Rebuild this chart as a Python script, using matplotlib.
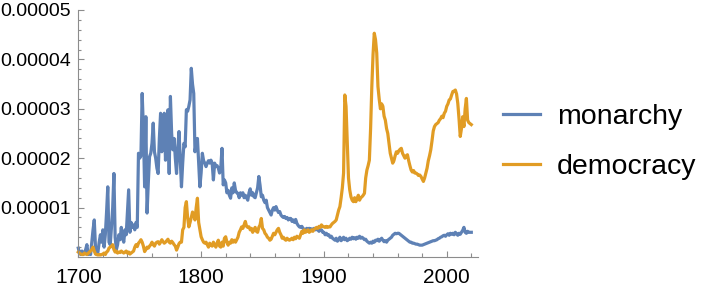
import numpy as np
import matplotlib
matplotlib.use("Agg")
import matplotlib.pyplot as plt
from matplotlib.ticker import FixedLocator, MultipleLocator, FixedFormatter

plt.rcParams['font.family'] = ['Liberation Sans', 'DejaVu Sans']

years = np.arange(1700, 2021)

# monarchy (units of 1e-5), one value per year, decade by decade
monarchy = [
    0.18, 0.08, 0.05, 0.12, 0.05, 0.08, 0.15, 0.25, 0.05, 0.10,
    0.05, 0.30, 0.55, 0.75, 0.20, 0.05, 0.10, 0.30, 0.45, 0.30,
    0.55, 0.20, 0.45, 0.90, 1.42, 0.30, 0.25, 0.60, 1.00, 1.69,
    0.40, 0.15, 0.25, 0.45, 0.35, 0.60, 0.40, 0.30, 0.55, 0.45,
    0.90, 1.36, 0.50, 0.70, 0.60, 0.65, 0.55, 0.70, 0.60, 2.10,
    2.00, 2.05, 3.31, 2.60, 1.42, 2.84, 0.89, 1.50, 2.03, 2.10,
    2.30, 2.71, 2.13, 2.00, 1.80, 1.69, 2.40, 2.91, 2.13, 2.50,
    2.91, 1.96, 2.60, 2.98, 1.69, 3.25, 2.50, 2.17, 2.40, 2.00,
    1.69, 2.20, 2.54, 2.00, 1.42, 1.90, 2.30, 2.23, 2.98, 2.95,
    3.05, 3.18, 3.82, 3.50, 3.31, 2.13, 2.30, 2.40, 1.90, 1.42,
    1.70, 2.10, 1.95, 1.90, 1.83, 1.90, 1.95, 1.90, 1.96, 1.90,
    1.56, 1.90, 1.83, 1.85, 1.80, 1.70, 1.80, 2.20, 1.46, 1.56,
    1.50, 1.30, 1.35, 1.25, 1.19, 1.40, 1.30, 1.50, 1.35, 1.30,
    1.29, 1.20, 1.30, 1.25, 1.30, 1.20, 1.25, 1.20, 1.15, 1.30,
    1.38, 1.25, 1.30, 1.22, 1.20, 1.30, 1.40, 1.63, 1.45, 1.22,
    1.25, 1.15, 1.10, 1.15, 1.00, 0.95, 0.90, 0.85, 0.95, 1.00,
    0.95, 1.02, 0.95, 0.90, 0.92, 0.85, 0.82, 0.80, 0.82, 0.78,
    0.80, 0.75, 0.78, 0.78, 0.72, 0.75, 0.70, 0.76, 0.68, 0.64,
    0.61, 0.60, 0.62, 0.58, 0.56, 0.55, 0.58, 0.55, 0.58, 0.56,
    0.57, 0.54, 0.58, 0.55, 0.56, 0.55, 0.52, 0.55, 0.55, 0.50,
    0.50, 0.45, 0.48, 0.44, 0.45, 0.40, 0.42, 0.38, 0.36, 0.34,
    0.38, 0.32, 0.35, 0.40, 0.33, 0.36, 0.40, 0.35, 0.38, 0.33,
    0.35, 0.38, 0.36, 0.40, 0.37, 0.39, 0.36, 0.40, 0.38, 0.42,
    0.38, 0.40, 0.38, 0.35, 0.36, 0.32, 0.30, 0.28, 0.30, 0.28,
    0.32, 0.30, 0.34, 0.33, 0.36, 0.32, 0.35, 0.38, 0.34, 0.31,
    0.33, 0.30, 0.34, 0.36, 0.38, 0.40, 0.44, 0.46, 0.48, 0.47,
    0.48, 0.48, 0.46, 0.44, 0.42, 0.40, 0.38, 0.36, 0.34, 0.32,
    0.30, 0.30, 0.28, 0.28, 0.27, 0.26, 0.26, 0.25, 0.24, 0.24,
    0.24, 0.25, 0.26, 0.27, 0.28, 0.29, 0.30, 0.31, 0.32, 0.33,
    0.33, 0.34, 0.35, 0.37, 0.38, 0.40, 0.41, 0.43, 0.44, 0.42,
    0.45, 0.47, 0.44, 0.48, 0.46, 0.48, 0.45, 0.50, 0.47, 0.44,
    0.48, 0.46, 0.50, 0.54, 0.60, 0.50, 0.48, 0.52, 0.50, 0.50,
    0.50,
]

# democracy (units of 1e-5)
democracy = [
    0.10, 0.08, 0.06, 0.05, 0.05, 0.08, 0.06, 0.05, 0.07, 0.10,
    0.12, 0.15, 0.20, 0.12, 0.06, 0.05, 0.04, 0.05, 0.04, 0.05,
    0.06, 0.08, 0.05, 0.10, 0.12, 0.18, 0.20, 0.22, 0.25, 0.15,
    0.10, 0.12, 0.08, 0.10, 0.09, 0.12, 0.10, 0.08, 0.10, 0.12,
    0.08, 0.10, 0.06, 0.08, 0.10, 0.12, 0.20, 0.25, 0.21, 0.28,
    0.31, 0.35, 0.30, 0.22, 0.11, 0.15, 0.20, 0.18, 0.22, 0.25,
    0.30, 0.25, 0.22, 0.28, 0.30, 0.31, 0.26, 0.30, 0.35, 0.31,
    0.28, 0.30, 0.33, 0.36, 0.30, 0.28, 0.32, 0.29, 0.25, 0.22,
    0.14, 0.20, 0.27, 0.30, 0.30, 0.55, 0.60, 1.00, 1.12, 0.80,
    0.61, 0.70, 0.80, 0.91, 0.85, 0.75, 1.00, 1.19, 0.70, 0.55,
    0.41, 0.35, 0.30, 0.28, 0.30, 0.25, 0.20, 0.28, 0.24, 0.22,
    0.30, 0.25, 0.20, 0.28, 0.34, 0.22, 0.20, 0.30, 0.22, 0.38,
    0.41, 0.30, 0.24, 0.30, 0.28, 0.35, 0.30, 0.34, 0.30, 0.35,
    0.40, 0.50, 0.55, 0.61, 0.58, 0.65, 0.72, 0.62, 0.60, 0.61,
    0.55, 0.58, 0.50, 0.55, 0.60, 0.52, 0.50, 0.60, 0.65, 0.78,
    0.58, 0.55, 0.48, 0.45, 0.40, 0.38, 0.34, 0.36, 0.42, 0.48,
    0.45, 0.50, 0.55, 0.58, 0.50, 0.45, 0.38, 0.40, 0.36, 0.34,
    0.38, 0.35, 0.34, 0.36, 0.38, 0.35, 0.40, 0.37, 0.42, 0.40,
    0.38, 0.45, 0.52, 0.48, 0.55, 0.50, 0.52, 0.55, 0.50, 0.52,
    0.55, 0.52, 0.56, 0.58, 0.60, 0.58, 0.62, 0.60, 0.65, 0.62,
    0.61, 0.60, 0.62, 0.60, 0.61, 0.61, 0.65, 0.68, 0.70, 0.72,
    0.75, 0.85, 0.95, 1.02, 1.20, 1.40, 1.70, 3.28, 3.05, 2.30,
    1.60, 1.36, 1.22, 1.15, 1.12, 1.20, 1.12, 1.18, 1.25, 1.15,
    1.20, 1.22, 1.25, 1.29, 1.60, 1.76, 1.85, 1.96, 2.60, 3.45,
    4.10, 4.53, 4.40, 4.13, 3.45, 3.20, 3.00, 3.10, 3.05, 2.85,
    2.77, 2.60, 2.50, 2.30, 2.10, 2.00, 1.90, 1.95, 2.05, 2.13,
    2.10, 2.15, 2.18, 2.20, 2.10, 2.05, 2.00, 2.05, 2.07, 1.95,
    1.85, 1.76, 1.72, 1.75, 1.70, 1.70, 1.68, 1.65, 1.66, 1.63,
    1.58, 1.53, 1.60, 1.70, 1.80, 1.95, 2.05, 2.17, 2.35, 2.55,
    2.64, 2.68, 2.70, 2.72, 2.77, 2.80, 2.85, 2.82, 2.91, 2.95,
    3.05, 3.10, 3.18, 3.20, 3.28, 3.35, 3.36, 3.38, 3.30, 3.11,
    2.80, 2.44, 2.60, 2.84, 2.64, 3.00, 3.21, 2.77, 2.72, 2.70,
    2.68,
]

series_names = ["monarchy", "democracy"]
series_colors = ["#5E81B5", "#E19C24"]
x_tick_values = [1700, 1800, 1900, 2000]
x_tick_labels = ["1700", "1800", "1900", "2000"]
y_tick_values = [1e-5, 2e-5, 3e-5, 4e-5, 5e-5]
y_tick_labels = ["0.00001", "0.00002", "0.00003", "0.00004", "0.00005"]

scale = 1e-5
fig = plt.figure(figsize=(7.14, 2.88), dpi=100)
ax = fig.add_axes([78.3 / 714, 31 / 288, 400 / 714, 247 / 288])

for name, vals, col in zip(series_names, [monarchy, democracy], series_colors):
    ax.plot(years, np.array(vals) * scale, color=col, lw=2.3, label=name,
            clip_on=False, solid_joinstyle='round')

ax.set_xlim(1700, 2025.7)
ax.set_ylim(0, 5e-5)

for s in ["top", "right"]:
    ax.spines[s].set_visible(False)
for s in ["left", "bottom"]:
    ax.spines[s].set_color("#8c8c8c")
    ax.spines[s].set_linewidth(0.8)

ax.xaxis.set_major_locator(FixedLocator(x_tick_values))
ax.xaxis.set_major_formatter(FixedFormatter(x_tick_labels))
ax.xaxis.set_minor_locator(MultipleLocator(20))
ax.yaxis.set_major_locator(FixedLocator(y_tick_values))
ax.yaxis.set_major_formatter(FixedFormatter(y_tick_labels))
ax.yaxis.set_minor_locator(MultipleLocator(2e-6))

ax.tick_params(which="both", direction="in", color="#8c8c8c", width=0.8,
               labelcolor="black")
ax.tick_params(axis="x", which="major", length=4, pad=8, labelsize=15)
ax.tick_params(axis="x", which="minor", length=3)
ax.tick_params(axis="y", which="major", length=4, pad=5, labelsize=14)
ax.tick_params(axis="y", which="minor", length=2.2)

fig.legend(loc="center left", bbox_to_anchor=(503 / 714, 146 / 288),
           frameon=False, fontsize=20.5, handlelength=1.3, handletextpad=0.6,
           labelspacing=0.85, borderpad=0, borderaxespad=0)

fig.savefig("out.png", dpi=100)
